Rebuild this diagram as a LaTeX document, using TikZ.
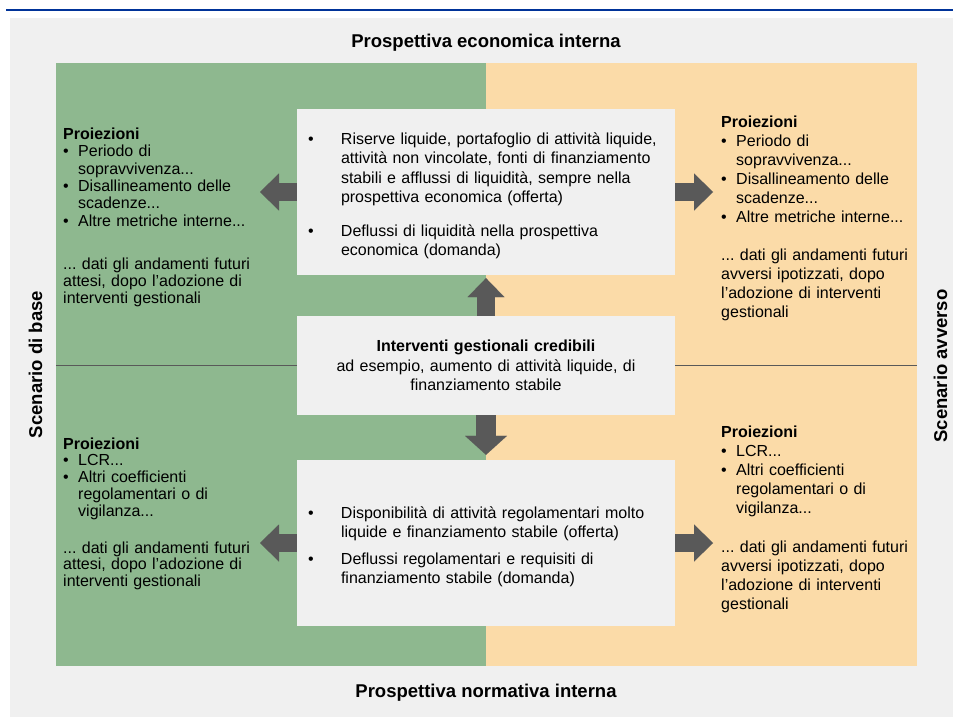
\documentclass[tikz,border=0pt]{standalone}
\usepackage{fontspec}
\setmainfont{Liberation Sans}
\usetikzlibrary{arrows.meta}
\frenchspacing

\definecolor{ecbblue}{HTML}{003399}
\definecolor{panelgray}{HTML}{F0F0F0}
\definecolor{basegreen}{HTML}{8EB88F}
\definecolor{advpeach}{HTML}{FBDBA8}
\definecolor{arrgray}{HTML}{595959}

% bullet with hanging indent; optional arg is the indent
\newcommand{\blt}[2][15pt]{\par{\hangindent=#1\hangafter=1\noindent\let\\\newline
  \makebox[#1][l]{\textbullet}#2\par}}

\begin{document}
\begin{tikzpicture}[x=1pt,y=-1pt,font=\fontsize{16}{19}\selectfont,
  ttl/.style={anchor=base,inner sep=0pt,font=\bfseries\fontsize{18.5}{22}\selectfont},
  sidetxt/.style={anchor=base west,inner sep=0pt,text width=215pt,align=left},
  cbox/.style={fill=panelgray,text width=356pt,inner xsep=11pt,inner ysep=0pt,
    minimum height=166pt,align=left,font=\fontsize{16}{19.4}\selectfont},
  bigarr/.style={draw=arrgray,line width=18pt,
    -{Triangle[length=19pt,width=37pt,line width=0.01pt]}}]
% pixel grid of the slide, y running down
\useasboundingbox (0,0) rectangle (953,717);
\def\xl{63}\def\xr{721}

% frame and the two scenario halves
\fill[ecbblue] (6,9) rectangle (953,11);
\fill[panelgray] (10,18) rectangle (953,717);
\fill[basegreen] (56,63) rectangle (486,666);
\fill[advpeach] (486,63) rectangle (917,666);
\draw[arrgray,line width=1pt] (56,365) -- (917,365);

% axis titles
\node[ttl] (econ) at (486,48) {Prospettiva economica interna};
\node[ttl] (norm) at (486,697) {Prospettiva normativa interna};
\node[ttl,rotate=90] (base) at (42,364.5) {Scenario di base};
\node[ttl,rotate=90] (adv) at (947,366) {Scenario avverso};

% central column
\node[cbox] (etop) at (486,192) {%
  \blt[33pt]{Riserve liquide, portafoglio di attività liquide,\\
    attività non vincolate, fonti di finanziamento\\
    stabili e afflussi di liquidità, sempre nella\\
    prospettiva economica (offerta)}
  \vspace{14.6pt}
  \blt[33pt]{Deflussi di liquidità nella prospettiva\\economica (domanda)}};
\node[cbox,align=center,minimum height=99pt] (cmid) at (486,365.5) {%
  \textbf{Interventi gestionali credibili}\\
  ad esempio, aumento di attività liquide, di\\finanziamento stabile};
\node[cbox] (ebot) at (486,543) {%
  \blt[33pt]{Disponibilità di attività regolamentari molto\\
    liquide e finanziamento stabile (offerta)}
  \vspace{7.6pt}
  \blt[33pt]{Deflussi regolamentari e requisiti di\\
    finanziamento stabile (domanda)}};

% projections, baseline scenario
\node[sidetxt,font=\fontsize{16}{17.3}\selectfont] (projTL) at (\xl,139.5) {%
  \textbf{Proiezioni}
  \blt{Periodo di\\sopravvivenza...}
  \blt{Disallineamento delle\\scadenze...}
  \blt{Altre metriche interne...}
  \vspace{25.7pt}
  ... dati gli andamenti futuri\\attesi, dopo l’adozione di\\interventi gestionali};
\node[sidetxt,font=\fontsize{16}{16.8}\selectfont] (projBL) at (\xl,449) {%
  \textbf{Proiezioni}
  \blt{LCR...}
  \blt{Altri coefficienti\\regolamentari o di\\vigilanza...}
  \vspace{20pt}
  ... dati gli andamenti futuri\\attesi, dopo l’adozione di\\interventi gestionali};

% projections, adverse scenario
\node[sidetxt] (projTR) at (\xr,127) {%
  \textbf{Proiezioni}
  \blt{Periodo di\\sopravvivenza...}
  \blt{Disallineamento delle\\scadenze...}
  \blt{Altre metriche interne...}
  \vspace{20pt}
  ... dati gli andamenti futuri\\avversi ipotizzati, dopo\\l’adozione di interventi\\gestionali};
\node[sidetxt] (projBR) at (\xr,437) {%
  \textbf{Proiezioni}
  \blt{LCR...}
  \blt{Altri coefficienti\\regolamentari o di\\vigilanza...}
  \vspace{20pt}
  ... dati gli andamenti futuri\\avversi ipotizzati, dopo\\l’adozione di interventi\\gestionali};

% block arrows
\coordinate (tipTL) at (260,192);
\coordinate (tipTR) at (713,192);
\coordinate (tipBL) at (260,543);
\coordinate (tipBR) at (713,543);
\draw[bigarr] (etop.west) -- (tipTL);
\draw[bigarr] (etop.east) -- (tipTR);
\draw[bigarr] (ebot.west) -- (tipBL);
\draw[bigarr] (ebot.east) -- (tipBR);
\draw[bigarr,shorten >=3pt] (cmid.north) -- (etop.south);
\draw[bigarr,line width=20pt,shorten >=5pt,
  -{Triangle[length=19pt,width=42pt,line width=0.01pt]}] (cmid.south) -- (ebot.north);
\end{tikzpicture}
\end{document}
